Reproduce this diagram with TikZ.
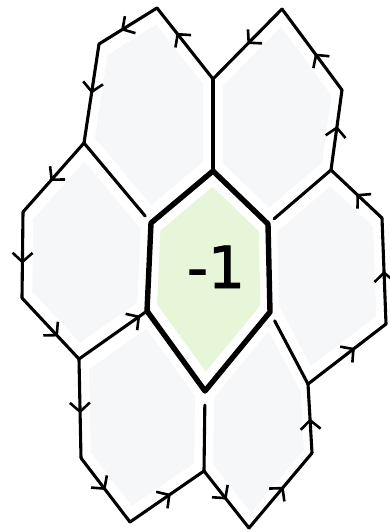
\documentclass[tikz,border=0pt]{standalone}
\usepackage{fontspec}
\newfontfamily\labelfont{DejaVu Sans}[FakeBold=1.6]
\usetikzlibrary{arrows.meta,decorations.markings,calc}
\definecolor{cellgray}{HTML}{F6F7F9}
\definecolor{cellgreen}{HTML}{E7F5D9}
\tikzset{
  edge/.style={line width=3.1pt, line cap=round, line join=round},
  core/.style={line width=5.4pt, line cap=round, line join=round},
  flowedge/.style={edge, postaction={decorate}, decoration={markings,
      mark=at position #1 with {\arrow{Straight Barb[length=9pt,width=20pt,line width=2.6pt]}}}},
  flowedge/.default=0.5,
}
\newcommand\cellfill[8]{\fill[#1] ($(#2)!0.84!(#3)$) -- ($(#2)!0.84!(#4)$) -- ($(#2)!0.84!(#5)$) -- ($(#2)!0.84!(#6)$) -- ($(#2)!0.84!(#7)$) -- ($(#2)!0.84!(#8)$) -- cycle;}
\begin{document}
\begin{tikzpicture}[x=1pt,y=-1pt]
\useasboundingbox (0,0) rectangle (390,532);
% vertices
\coordinate (A) at (157,8);
\coordinate (B) at (99,44);
\coordinate (C) at (84,143);
\coordinate (D) at (213,79);
\coordinate (E) at (213,171);
\coordinate (F) at (151,223);
\coordinate (G) at (282,9);
\coordinate (H) at (342,90);
\coordinate (I) at (331,170);
\coordinate (J) at (268,224);
\coordinate (K) at (382,218);
\coordinate (L) at (386,324);
\coordinate (M) at (308,384);
\coordinate (N) at (270,312);
\coordinate (O) at (205,391);
\coordinate (P) at (147,311);
\coordinate (Q) at (23,212);
\coordinate (R) at (22,298);
\coordinate (S) at (79,359);
\coordinate (T) at (81,458);
\coordinate (U) at (130,522);
\coordinate (V) at (204,471);
\coordinate (W) at (249,528);
\coordinate (X) at (312,453);
% cell centres
\coordinate (ctl) at (152,112);
\coordinate (ctr) at (276,122);
\coordinate (cl) at (86,258);
\coordinate (cr) at (326,272);
\coordinate (cbl) at (142,422);
\coordinate (cbr) at (262,432);
\coordinate (cc) at (210,270);
% fills
\cellfill{cellgray}{ctl}{A}{D}{E}{F}{C}{B}
\cellfill{cellgray}{ctr}{G}{H}{I}{J}{E}{D}
\cellfill{cellgray}{cl}{C}{F}{P}{S}{R}{Q}
\cellfill{cellgray}{cr}{I}{K}{L}{M}{N}{J}
\cellfill{cellgray}{cbl}{P}{O}{V}{U}{T}{S}
\cellfill{cellgray}{cbr}{N}{M}{X}{W}{V}{O}
\cellfill{cellgreen}{cc}{E}{J}{N}{O}{P}{F}
% boundary edges with flow marks
\draw[flowedge=0.5] (G) -- (D);
\draw[flowedge=0.65] (D) -- (A);
\draw[flowedge=0.62] (A) -- (B);
\draw[flowedge=0.5] (B) -- (C);
\draw[flowedge=0.55] (C) -- (Q);
\draw[flowedge=0.6] (Q) -- (R);
\draw[flowedge=0.63] (R) -- (S);
\draw[flowedge=0.55] (S) -- (T);
\draw[flowedge=0.5] (T) -- (U);
\draw[flowedge=0.55] (U) -- (V);
\draw[flowedge=0.5] (V) -- (W);
\draw[flowedge=0.55] (W) -- (X);
\draw[flowedge=0.5] (X) -- (M);
\draw[flowedge=0.6] (M) -- (L);
\draw[flowedge=0.5] (L) -- (K);
\draw[flowedge=0.5] (K) -- (I);
\draw[flowedge=0.55] (I) -- (H);
\draw[flowedge=0.45] (H) -- (G);
\draw[flowedge=0.9] (S) -- (P);
% inner edges
\draw[edge] (D) -- (E);
\draw[edge, shorten >=9pt] (C) -- (F);
\draw[edge, shorten >=14pt] (V) -- (O);
\draw[edge, shorten <=10pt] (N) -- (M);
\draw[edge, shorten >=8pt] (I) -- (J);
% central cell
\draw[core] (E) -- (J) -- (N) -- (O) -- (P) -- (F) -- cycle;
\node[font=\labelfont\fontsize{58}{58}\selectfont, anchor=base, inner sep=0pt] (lbl) at (216,288) {-1};
\end{tikzpicture}
\end{document}
